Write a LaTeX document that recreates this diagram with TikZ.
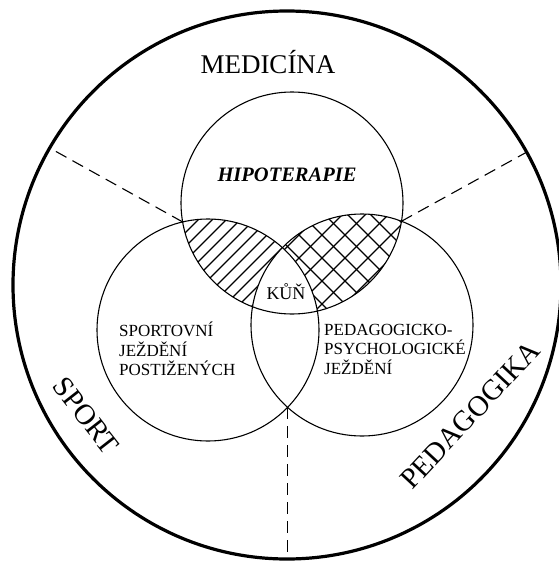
\documentclass[tikz,border=0pt]{standalone}
\usepackage{fontspec}
\setmainfont{Liberation Serif}
\usetikzlibrary{intersections, calc}

\begin{document}
\begin{tikzpicture}[x=1pt, y=-1pt,
    ring/.style={draw, line width=1.1pt},
    hatch/.style={line width=1.1pt},
    border/.style={line width=1.1pt, dash pattern=on 12pt off 7pt},
    field/.style={font=\fontsize{27}{30}\selectfont},
    area/.style={font=\fontsize{17}{19.5}\selectfont, align=left,
                 anchor=west, inner sep=0pt},
  ]
    \useasboundingbox (0,0) rectangle (559,563);
    \coordinate (cO) at (287,285);
    \coordinate (cT) at (292,203);
    \coordinate (cL) at (208,330);
    \coordinate (cR) at (362,325);

    % medicina + sport
    \begin{scope}
      \clip (cT) circle[radius=111];
      \clip (cL) circle[radius=111];
      \foreach \i in {-100,-86,...,400}
        \draw[hatch] (\i,350) -- ++(300,-300);
      \fill[white] (cR) circle[radius=111];
    \end{scope}

    % medicina + pedagogika
    \begin{scope}
      \clip (cT) circle[radius=111];
      \clip (cR) circle[radius=111];
      \foreach \i in {0,23,...,700} {
        \draw[hatch] (\i,350) -- ++(300,-300);
        \draw[hatch] (\i,350) -- ++(-300,-300);
      }
      \fill[white] (cL) circle[radius=111];
    \end{scope}

    \draw[line width=3.2pt] (cO) circle[radius=274];
    \draw[ring, name path=top] (cT) circle[radius=111];
    \draw[ring, name path=left] (cL) circle[radius=111];
    \draw[ring, name path=right] (cR) circle[radius=111];

    \path[name intersections={of=top and left, by={iTL1,iTL2}}];
    \path[name intersections={of=top and right, by={iTR1,iTR2}}];
    \path[name intersections={of=left and right, by={iLR1,iLR2}}];

    \coordinate (oL) at ($(cO)+(-150:274)$);
    \coordinate (oR) at ($(cO)+(-29:274)$);
    \coordinate (oB) at ($(cO)+(90:274)$);

    \draw[border] (iTL2) -- (oL);
    \draw[border] (iTR1) -- (oR);
    \draw[border] (iLR1) -- (iLR1 |- oB);

    \node[field] (med) at (268,62) {MEDICÍNA};
    \node[field, font=\fontsize{29}{32}\selectfont, rotate=-52] (sport) at (86,416) {SPORT};
    \node[field, font=\fontsize{29}{32}\selectfont, rotate=47] (ped) at (470,415) {PEDAGOGIKA};
    \node[font=\fontsize{20.5}{24}\selectfont\bfseries\itshape] (hipo) at (287,175) {HIPOTERAPIE};
    \node[font=\fontsize{18}{20}\selectfont] (kun) at (286,292) {KŮŇ};
    \node[area] (spo) at (119,349) {SPORTOVNÍ\\JEŽDĚNÍ\\POSTIŽENÝCH};
    \node[area] (peda) at (324,349) {PEDAGOGICKO-\\PSYCHOLOGICKÉ\\JEŽDĚNÍ};
  \end{tikzpicture}
\end{document}
